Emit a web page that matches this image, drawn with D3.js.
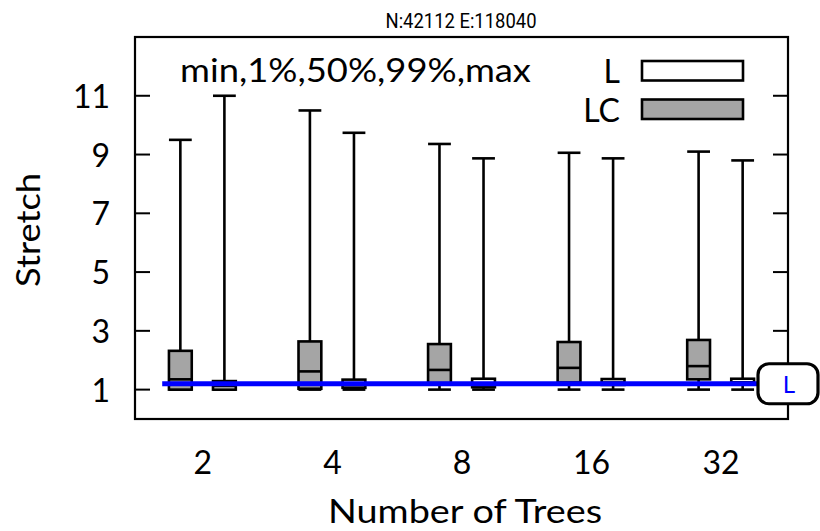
<!DOCTYPE html>
<html>
<head>
<meta charset="utf-8">
<script src="https://cdn.jsdelivr.net/npm/d3@7"></script>
<style>
  html, body { margin: 0; padding: 0; background: #fff; }
  svg { display: block; }
  text { font-family: Lato, "Noto Sans", sans-serif; fill: #000; }
</style>
</head>
<body>
<svg id="chart" width="820" height="531"></svg>
<script>
// Number of trees on the x axis
const categories = ["2", "4", "8", "16", "32"];

// Stretch statistics per tree count: min, 1%, 50%, 99%, max
const lcMin    = [1.00, 1.00, 1.00, 1.00, 1.00];
const lcP1     = [1.00, 1.03, 1.22, 1.24, 1.35];
const lcMedian = [1.35, 1.62, 1.67, 1.74, 1.80];
const lcP99    = [2.32, 2.64, 2.55, 2.62, 2.69];
const lcMax    = [9.50, 10.50, 9.36, 9.06, 9.10];

const lMin    = [1.00, 1.00, 1.00, 1.00, 1.00];
const lP1     = [1.00, 1.06, 1.08, 1.16, 1.18];
const lMedian = [1.12, 1.15, 1.20, 1.24, 1.25];
const lP99    = [1.29, 1.34, 1.37, 1.36, 1.37];
const lMax    = [11.00, 9.74, 8.87, 8.87, 8.80];

const yTicks = [1, 3, 5, 7, 9, 11];

// Horizontal reference level for L
const refValue = 1.2;
const refLabel = "L";
const refStart = -0.31;

const seriesFill  = { L: "#ffffff", LC: "#a5a5a5" };
const seriesShift = { LC: -0.17, L: 0.17 };

const series = [
  { name: "LC", min: lcMin, p1: lcP1, med: lcMedian, p99: lcP99, max: lcMax },
  { name: "L",  min: lMin,  p1: lP1,  med: lMedian,  p99: lP99,  max: lMax }
];

const svg = d3.select("#chart");
const plot = { left: 135, right: 788, top: 37, bottom: 419 };

const x = d3.scaleLinear().domain([-0.52, 4.52]).range([plot.left, plot.right]);
const y = d3.scaleLinear().domain([0, 13]).range([plot.bottom, plot.top]);
const boxHalf = 0.088;

// Title, narrowed horizontally to a condensed look
const titleG = svg.append("g").attr("transform", "translate(461,28)");
const title = titleG.append("text")
  .attr("text-anchor", "middle")
  .style("font-family", "Roboto, 'Liberation Sans', sans-serif")
  .style("font-size", "21px")
  .text("N:42112 E:118040");
const titleW = title.node().getComputedTextLength();
title.attr("transform", `scale(${151 / titleW},1)`);

// Y axis tick labels and inward ticks on both sides
const yAxisL = d3.axisLeft(y).tickValues(yTicks).tickSize(0).tickPadding(0);
const gy = svg.append("g").attr("transform", `translate(${plot.left},0)`).call(yAxisL);
gy.select(".domain").remove();
gy.selectAll("text")
  .attr("x", -25).attr("dy", "0.36em")
  .style("font-size", "32px").style("font-family", "Lato, 'Noto Sans', sans-serif");

const tickG = svg.append("g");
yTicks.forEach(t => {
  tickG.append("line").attr("x1", plot.left).attr("x2", plot.left + 15)
    .attr("y1", y(t)).attr("y2", y(t)).attr("stroke", "#000").attr("stroke-width", 2);
  tickG.append("line").attr("x1", plot.right).attr("x2", plot.right - 15)
    .attr("y1", y(t)).attr("y2", y(t)).attr("stroke", "#000").attr("stroke-width", 2);
});

// X category labels
const xAxis = d3.axisBottom(x).tickValues(d3.range(categories.length))
  .tickFormat(i => categories[i]).tickSize(0).tickPadding(0);
const gx = svg.append("g").attr("transform", `translate(0,${plot.bottom})`).call(xAxis);
gx.select(".domain").remove();
gx.selectAll("text")
  .attr("y", 0).attr("dy", 55)
  .style("font-size", "32px").style("font-family", "Lato, 'Noto Sans', sans-serif");

// Axis titles
svg.append("text")
  .attr("x", 465).attr("y", 523)
  .attr("text-anchor", "middle")
  .attr("textLength", 274).attr("lengthAdjust", "spacingAndGlyphs")
  .style("font-size", "32px")
  .text("Number of Trees");

svg.append("text")
  .attr("transform", "translate(40,230) rotate(-90)")
  .attr("text-anchor", "middle")
  .attr("textLength", 114).attr("lengthAdjust", "spacingAndGlyphs")
  .style("font-size", "32px")
  .text("Stretch");

// Box-and-whisker marks
const marks = svg.append("g");
series.forEach(s => {
  categories.forEach((c, i) => {
    const cx = i + seriesShift[s.name];
    const x0 = x(cx - boxHalf), x1 = x(cx + boxHalf), xm = x(cx);
    const g = marks.append("g").attr("stroke", "#000").attr("stroke-width", 2.6).attr("fill", "none");
    // whiskers
    g.append("line").attr("x1", xm).attr("x2", xm).attr("y1", y(s.p99[i])).attr("y2", y(s.max[i]));
    g.append("line").attr("x1", x0).attr("x2", x1).attr("y1", y(s.max[i])).attr("y2", y(s.max[i]));
    g.append("line").attr("x1", xm).attr("x2", xm).attr("y1", y(s.p1[i])).attr("y2", y(s.min[i]));
    g.append("line").attr("x1", x0).attr("x2", x1).attr("y1", y(s.min[i])).attr("y2", y(s.min[i]));
    // box
    g.append("rect")
      .attr("x", x0).attr("width", x1 - x0)
      .attr("y", y(s.p99[i])).attr("height", y(s.p1[i]) - y(s.p99[i]))
      .attr("fill", seriesFill[s.name]);
    // median
    g.append("line").attr("x1", x0).attr("x2", x1).attr("y1", y(s.med[i])).attr("y2", y(s.med[i]));
  });
});

// Frame
svg.append("rect")
  .attr("x", plot.left).attr("y", plot.top)
  .attr("width", plot.right - plot.left).attr("height", plot.bottom - plot.top)
  .attr("fill", "none").attr("stroke", "#000").attr("stroke-width", 2.2);

// Annotation text and legend
svg.append("text")
  .attr("x", 180).attr("y", 82)
  .attr("textLength", 351).attr("lengthAdjust", "spacingAndGlyphs")
  .style("font-size", "32px")
  .text("min,1%,50%,99%,max");

const legendRows = [
  { name: "L", yTop: 61 },
  { name: "LC", yTop: 99.5 }
];
legendRows.forEach(r => {
  svg.append("text")
    .attr("x", 620).attr("y", r.yTop + 22)
    .attr("text-anchor", "end")
    .style("font-size", "32px")
    .text(r.name);
  svg.append("rect")
    .attr("x", 642).attr("y", r.yTop).attr("width", 101).attr("height", 19.5)
    .attr("fill", seriesFill[r.name]).attr("stroke", "#000").attr("stroke-width", 2.6);
});

// Reference line with its tag on the right edge
svg.append("line")
  .attr("x1", x(refStart)).attr("x2", x(4.52) - 30)
  .attr("y1", y(refValue)).attr("y2", y(refValue))
  .attr("stroke", "#0000ff").attr("stroke-width", 5);

const tag = svg.append("g").attr("transform", `translate(${x(4.52)},${y(refValue)})`);
tag.append("rect")
  .attr("x", -30).attr("y", -20).attr("width", 60).attr("height", 40)
  .attr("rx", 11).attr("ry", 11)
  .attr("fill", "#fff").attr("stroke", "#000").attr("stroke-width", 3.2);
tag.append("text")
  .attr("x", 1).attr("y", 1).attr("dy", "0.36em")
  .attr("text-anchor", "middle")
  .style("font-size", "24px").style("fill", "#0000ff")
  .text(refLabel);
</script>
</body>
</html>
